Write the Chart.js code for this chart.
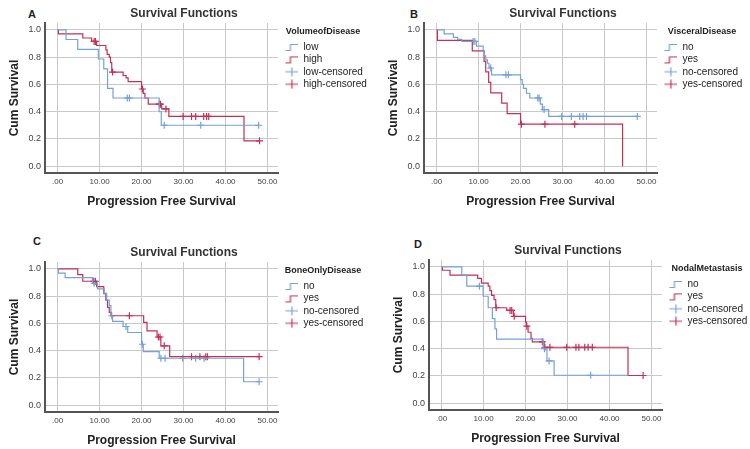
<!DOCTYPE html>
<html>
<head>
<meta charset="utf-8">
<script src="https://cdn.jsdelivr.net/npm/chart.js@4.4.1/dist/chart.umd.min.js"></script>
<style>
  html, body { margin: 0; padding: 0; background: #fff; }
  body { width: 750px; height: 449px; position: relative; overflow: hidden; font-family: 'Liberation Sans', Arial, sans-serif; }
  canvas { position: absolute; }
  .tag { position: absolute; font-weight: bold; font-size: 11px; color: #222; }
</style>
</head>
<body>
<div class="tag" style="left:28px;top:8px">A</div>
<div class="tag" style="left:410px;top:8px">B</div>
<div class="tag" style="left:33px;top:235px">C</div>
<div class="tag" style="left:414px;top:238px">D</div>
<canvas id="chartA" width="370" height="222" style="left:0px;top:0px"></canvas>
<canvas id="chartB" width="370" height="222" style="left:379px;top:0px"></canvas>
<canvas id="chartC" width="370" height="222" style="left:0px;top:239px"></canvas>
<canvas id="chartD" width="370" height="222" style="left:384px;top:237px"></canvas>
<script>
// tick values and labels
const xTicks = [0, 10, 20, 30, 40, 50];
const xTickLabels = ['.00', '10.00', '20.00', '30.00', '40.00', '50.00'];
const yTicks = [0, 0.2, 0.4, 0.6, 0.8, 1.0];
const yTickLabels = ['0.0', '0.2', '0.4', '0.6', '0.8', '1.0'];

// A - VolumeofDisease
const aLowT = [0, 2.0, 4.8, 9.7, 11.0, 11.9, 13.2, 24.2, 24.7, 47.9];
const aLowS = [1, 0.929, 0.857, 0.786, 0.714, 0.571, 0.5, 0.4, 0.3, 0.3];
const aLowCensT = [16.6, 17.1, 25.4, 34.1, 47.9];
const aLowCensS = [0.5, 0.5, 0.3, 0.3, 0.3];
const aHighT = [0, 0.2, 6.0, 8.1, 9.3, 11.5, 11.8, 12.3, 12.6, 12.9, 15.6, 16.3, 16.8, 20.0, 20.4, 20.8, 21.6, 24.8, 26.5, 44.4, 48.1];
const aHighS = [1, 0.97, 0.94, 0.915, 0.885, 0.853, 0.82, 0.8, 0.76, 0.69, 0.665, 0.647, 0.62, 0.566, 0.534, 0.5, 0.455, 0.42, 0.365, 0.186, 0.186];
const aHighCensT = [8.7, 9.0, 13.1, 20.2, 24.2, 24.5, 25.8, 29.9, 31.9, 32.9, 34.8, 35.5, 36.0, 48.1];
const aHighCensS = [0.915, 0.915, 0.69, 0.566, 0.455, 0.455, 0.42, 0.365, 0.365, 0.365, 0.365, 0.365, 0.365, 0.186];

// B - VisceralDisease
const bNoT = [0, 1.8, 4.0, 5.0, 6.0, 9.5, 11.1, 11.4, 11.7, 12.1, 12.5, 13.1, 20.0, 20.4, 20.7, 21.4, 22.2, 24.7, 25.2, 26.7, 47.9];
const bNoS = [1, 0.97, 0.945, 0.93, 0.915, 0.88, 0.845, 0.81, 0.78, 0.755, 0.72, 0.67, 0.635, 0.6, 0.57, 0.535, 0.5, 0.455, 0.415, 0.365, 0.365];
const bNoCensT = [8.7, 9.1, 12.9, 16.5, 17.1, 24.1, 24.4, 25.6, 29.8, 32.1, 34.1, 34.9, 35.7, 47.8];
const bNoCensS = [0.915, 0.915, 0.72, 0.67, 0.67, 0.5, 0.5, 0.415, 0.365, 0.365, 0.365, 0.365, 0.365, 0.365];
const bYesT = [0, 0.2, 8.5, 11.3, 11.7, 12.4, 12.9, 15.5, 16.8, 20.0, 44.3];
const bYesS = [1, 0.923, 0.846, 0.769, 0.692, 0.615, 0.538, 0.462, 0.385, 0.308, 0];
const bYesCensT = [20.2, 25.8, 32.9];
const bYesCensS = [0.308, 0.308, 0.308];

// C - BoneOnlyDisease
const cNoT = [0, 0.2, 1.8, 8.3, 9.5, 11.1, 11.7, 12.3, 12.7, 13.1, 15.6, 16.7, 20.0, 20.4, 24.2, 44.3, 48.0];
const cNoS = [1, 0.968, 0.936, 0.894, 0.853, 0.816, 0.77, 0.73, 0.656, 0.614, 0.577, 0.533, 0.447, 0.393, 0.344, 0.172, 0.172];
const cNoCensT = [8.7, 12.9, 16.3, 20.2, 24.6, 25.6, 29.8, 32.9, 34.9, 48.0];
const cNoCensS = [0.894, 0.656, 0.577, 0.447, 0.344, 0.344, 0.344, 0.344, 0.344, 0.172];
const cYesT = [0, 4.8, 6.0, 9.3, 11.0, 11.5, 11.9, 12.3, 12.7, 20.5, 21.3, 23.7, 24.6, 26.7, 48.0];
const cYesS = [1, 0.958, 0.909, 0.87, 0.82, 0.77, 0.717, 0.68, 0.656, 0.607, 0.545, 0.5, 0.435, 0.356, 0.356];
const cYesCensT = [8.6, 9.0, 17.1, 24.0, 24.4, 25.4, 31.9, 33.9, 35.3, 35.7, 48.0];
const cYesCensS = [0.909, 0.909, 0.656, 0.5, 0.5, 0.435, 0.356, 0.356, 0.356, 0.356, 0.356];

// D - NodalMetastasis
const dNoT = [0, 4.8, 6.0, 9.9, 11.1, 12.1, 12.7, 13.1, 24.2, 25.1, 26.8, 44.4];
const dNoS = [1, 0.939, 0.858, 0.784, 0.7, 0.62, 0.545, 0.47, 0.4, 0.31, 0.205, 0.205];
const dNoCensT = [9.0, 24.5, 25.6, 35.5];
const dNoCensS = [0.858, 0.4, 0.31, 0.205];
const dYesT = [0, 0.2, 2.0, 8.6, 9.5, 11.1, 11.5, 11.9, 12.5, 12.9, 15.5, 17.1, 20.0, 20.2, 20.6, 21.3, 21.6, 24.4, 44.4, 48.0];
const dYesS = [1, 0.975, 0.939, 0.915, 0.88, 0.858, 0.825, 0.79, 0.76, 0.7, 0.68, 0.637, 0.595, 0.565, 0.52, 0.475, 0.45, 0.41, 0.203, 0.203];
const dYesCensT = [13.0, 16.3, 16.7, 17.3, 20.3, 24.0, 24.6, 25.8, 29.8, 32.0, 32.7, 34.1, 34.9, 35.9, 48.0];
const dYesCensS = [0.7, 0.68, 0.68, 0.637, 0.565, 0.45, 0.41, 0.41, 0.41, 0.41, 0.41, 0.41, 0.41, 0.41, 0.203];

const BLUE = 'rgb(116,162,214)';
const RED = 'rgb(196,48,86)';
const LEGEND_W = 90;

Chart.defaults.font.family = "'Liberation Sans', Arial, sans-serif";
Chart.defaults.color = '#333';

function pts(t, s) {
    return t.map((v, i) => ({ x: v, y: s[i] }));
}

// little legend icons like the SPSS ones
function stepIcon(color) {
    const c = document.createElement('canvas');
    c.width = 18; c.height = 10;
    const g = c.getContext('2d');
    g.strokeStyle = color; g.lineWidth = 1.2;
    g.beginPath();
    g.moveTo(5, 8.5); g.lineTo(10, 8.5); g.lineTo(10, 2.5); g.lineTo(18, 2.5);
    g.stroke();
    return c;
}
function censIcon(color) {
    const c = document.createElement('canvas');
    c.width = 18; c.height = 10;
    const g = c.getContext('2d');
    g.strokeStyle = color; g.lineWidth = 1.2;
    g.beginPath();
    g.moveTo(5, 5); g.lineTo(18, 5);
    g.moveTo(11.5, 0.5); g.lineTo(11.5, 9.5);
    g.stroke();
    return c;
}

// keep legend box a fixed width so all four plot areas line up
const fixLegend = {
    id: 'fixLegend',
    beforeLayout(chart) {
        const lg = chart.legend;
        if (lg && !lg._fixed) {
            const fit = lg.fit;
            lg.fit = function () { fit.call(this); this.width = LEGEND_W; };
            lg._fixed = true;
        }
    }
};

function makePanel(id, groupTitle, names, lineA, lineB, censA, censB) {
    const ctx = document.getElementById(id).getContext('2d');
    const lineDs = (label, data, color) => ({
        label, data, borderColor: color, backgroundColor: color,
        borderWidth: 1.2, stepped: 'before', pointRadius: 0, fill: false,
        icon: stepIcon(color)
    });
    const censDs = (label, data, color) => ({
        label, data, borderColor: color, backgroundColor: color,
        showLine: false, pointStyle: 'cross', pointRadius: 3.5, borderWidth: 1.2,
        icon: censIcon(color)
    });
    return new Chart(ctx, {
        type: 'line',
        data: {
            datasets: [
                lineDs(names[0], lineA, BLUE),
                lineDs(names[1], lineB, RED),
                censDs(names[0] + '-censored', censA, BLUE),
                censDs(names[1] + '-censored', censB, RED)
            ]
        },
        plugins: [fixLegend],
        options: {
            responsive: false,
            animation: false,
            layout: { padding: { left: 0, right: 2, top: 0, bottom: 0 } },
            plugins: {
                title: {
                    display: true,
                    text: 'Survival Functions',
                    font: { size: 12, weight: 'bold' },
                    color: '#333',
                    padding: { top: 6, bottom: 2.6 }
                },
                legend: {
                    position: 'right',
                    align: 'start',
                    fullSize: false,
                    title: {
                        display: true,
                        text: groupTitle,
                        font: { size: 9, weight: 'bold' },
                        color: '#222',
                        padding: { top: 4.5, bottom: 1.3 }
                    },
                    labels: {
                        usePointStyle: true,
                        pointStyleWidth: 18,
                        padding: 2.4,
                        font: { size: 10 },
                        color: '#333',
                        generateLabels: chart => chart.data.datasets.map((ds, i) => ({
                            text: ds.label,
                            pointStyle: ds.icon,
                            datasetIndex: i,
                            fillStyle: 'transparent',
                            strokeStyle: 'transparent',
                            lineWidth: 0,
                            hidden: false
                        }))
                    }
                },
                tooltip: { enabled: false }
            },
            scales: {
                x: {
                    type: 'linear',
                    min: -3,
                    max: 52.5,
                    afterBuildTicks: axis => { axis.ticks = xTicks.map(v => ({ value: v })); },
                    afterFit: scale => { scale.height = 49; },
                    ticks: {
                        padding: 4,
                        font: { size: 8 },
                        color: '#444',
                        callback: (v, i) => xTickLabels[i]
                    },
                    grid: { color: '#c9c9c9', lineWidth: 1, drawTicks: false },
                    border: { display: true, color: '#555', width: 2 },
                    title: {
                        display: true,
                        text: 'Progression Free Survival',
                        font: { size: 12, weight: 'bold' },
                        color: '#222',
                        padding: { top: 12.8, bottom: 12.8 }
                    }
                },
                y: {
                    type: 'linear',
                    min: -0.05,
                    max: 1.05,
                    afterBuildTicks: axis => { axis.ticks = yTicks.map(v => ({ value: v })); },
                    afterFit: scale => { scale.width = 45; },
                    ticks: {
                        padding: 4,
                        font: { size: 9 },
                        color: '#444',
                        callback: (v, i) => yTickLabels[i]
                    },
                    grid: { color: '#c9c9c9', lineWidth: 1, drawTicks: false },
                    border: { display: true, color: '#555', width: 2 },
                    title: {
                        display: true,
                        text: 'Cum Survival',
                        font: { size: 12, weight: 'bold' },
                        color: '#222',
                        padding: { top: 7.8, bottom: 7.8 }
                    }
                }
            }
        }
    });
}

makePanel('chartA', 'VolumeofDisease', ['low', 'high'],
    pts(aLowT, aLowS), pts(aHighT, aHighS), pts(aLowCensT, aLowCensS), pts(aHighCensT, aHighCensS));
makePanel('chartB', 'VisceralDisease', ['no', 'yes'],
    pts(bNoT, bNoS), pts(bYesT, bYesS), pts(bNoCensT, bNoCensS), pts(bYesCensT, bYesCensS));
makePanel('chartC', 'BoneOnlyDisease', ['no', 'yes'],
    pts(cNoT, cNoS), pts(cYesT, cYesS), pts(cNoCensT, cNoCensS), pts(cYesCensT, cYesCensS));
makePanel('chartD', 'NodalMetastasis', ['no', 'yes'],
    pts(dNoT, dNoS), pts(dYesT, dYesS), pts(dNoCensT, dNoCensS), pts(dYesCensT, dYesCensS));
</script>
</body>
</html>
